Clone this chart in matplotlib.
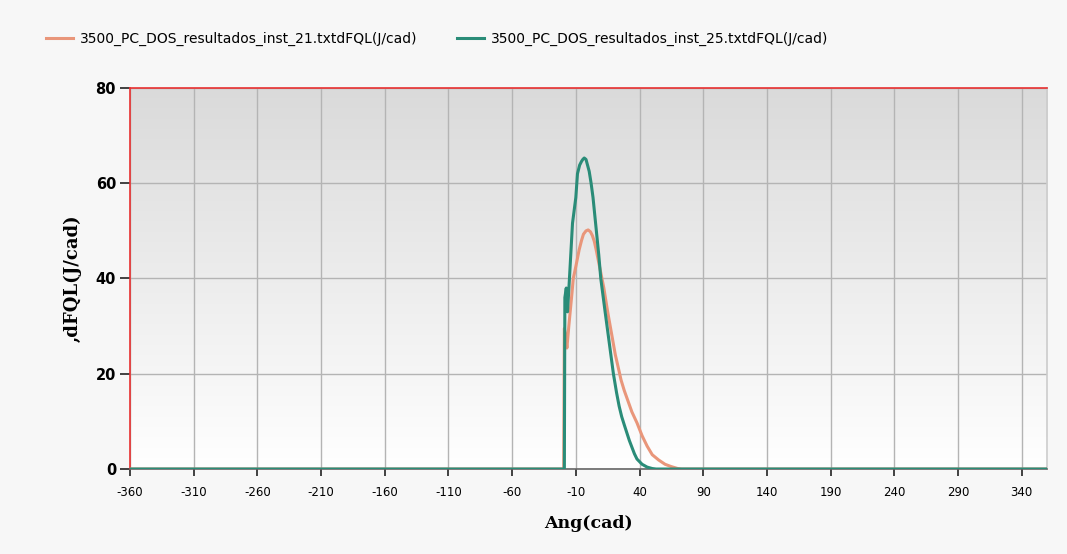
import numpy as np
import matplotlib
matplotlib.use('Agg')
import matplotlib.pyplot as plt

plt.rcParams['axes.unicode_minus'] = False

# data
ang_21 = [-360, -19.5, -19, -18, -17, -15.5, -13, -12, -10, -7.4, -5.5, -4, -2, -0.3, 1.5, 3, 4.5, 6,
          9, 12, 15, 18, 21, 24, 25.5, 28, 30, 34, 38, 42, 46, 50, 55, 60, 65, 70, 73, 360]
dfql_21 = [0, 0, 29.5, 28, 25.4, 30, 37, 40, 42.5, 46, 48, 49.3, 50, 50.2, 49.8, 49, 47.8, 46,
           42, 38, 33, 28.5, 24, 20.5, 18.7, 16.5, 15, 12, 9.7, 7, 4.8, 3, 1.9, 1, 0.5, 0.1, 0, 0]

ang_25 = [-360, -19, -18.6, -17.5, -16.5, -15, -12.6, -10, -8.7, -7, -5.5, -4.5, -3.4, -2, -1, 0.5, 2,
          3.5, 5, 8, 9.6, 13, 16, 19.5, 22, 24, 26, 28, 32, 36, 38, 42, 46, 50, 53, 360]
dfql_25 = [0, 0, 36, 38, 33, 40, 51.6, 57, 62, 63.8, 64.6, 65, 65.3, 65, 64, 62.5, 60,
           57, 53, 45, 40, 33, 27, 20, 16, 13.2, 11, 9.3, 6, 3.2, 2.1, 1, 0.4, 0.1, 0, 0]

labels = ['3500_PC_DOS_resultados_inst_21.txtdFQL(J/cad)',
          '3500_PC_DOS_resultados_inst_25.txtdFQL(J/cad)']
colors = ['#E9967A', '#2A8C78']
xticks = list(range(-360, 360, 50))
yticks = [0, 20, 40, 60, 80]

fig = plt.figure(figsize=(10.67, 5.54), dpi=100)
fig.patch.set_facecolor('#f7f7f7')
ax = fig.add_axes([0.1218, 0.1534, 0.8596, 0.6878])

# gradient background
grad = np.linspace(0, 1, 256).reshape(-1, 1)
ax.imshow(grad, cmap=matplotlib.colors.LinearSegmentedColormap.from_list('bg', ['#dadada', '#ffffff']),
          extent=[0, 1, 0, 1], transform=ax.transAxes, aspect='auto', zorder=0, origin='upper')

ax.plot(ang_21, dfql_21, color=colors[0], lw=2.2, label=labels[0], zorder=3)
ax.plot(ang_25, dfql_25, color=colors[1], lw=2.2, label=labels[1], zorder=4)

ax.set_xlim(-360, 360)
ax.set_ylim(0, 80)
ax.set_xticks(xticks)
ax.set_yticks(yticks)
ax.tick_params(axis='x', labelsize=8.5, length=5, width=1.2, color='#222222', pad=7)
ax.tick_params(axis='y', labelsize=10.5, length=7, width=1.2, color='#222222', pad=3)
for t in ax.get_yticklabels():
    t.set_fontweight('bold')
ax.grid(True, color='#b4b4b4', lw=1, zorder=1)

ax.spines['top'].set_color('#e83030')
ax.spines['left'].set_color('#e83030')
ax.spines['right'].set_color('#cccccc')
ax.spines['bottom'].set_color('#666666')
for s in ax.spines.values():
    s.set_linewidth(1.2)

ax.set_xlabel('Ang(cad)', family='DejaVu Serif', fontweight='bold', fontsize=12.5, labelpad=12)
ax.set_ylabel(',dFQL(J/cad)', family='DejaVu Serif', fontweight='bold', fontsize=13, labelpad=10)

fig.legend(loc='upper left', bbox_to_anchor=(0.031, 0.965), ncol=2, frameon=False,
           fontsize=10, handlelength=2.0, handletextpad=0.5, columnspacing=2.8)

fig.savefig('out.png', dpi=100, facecolor=fig.get_facecolor())
